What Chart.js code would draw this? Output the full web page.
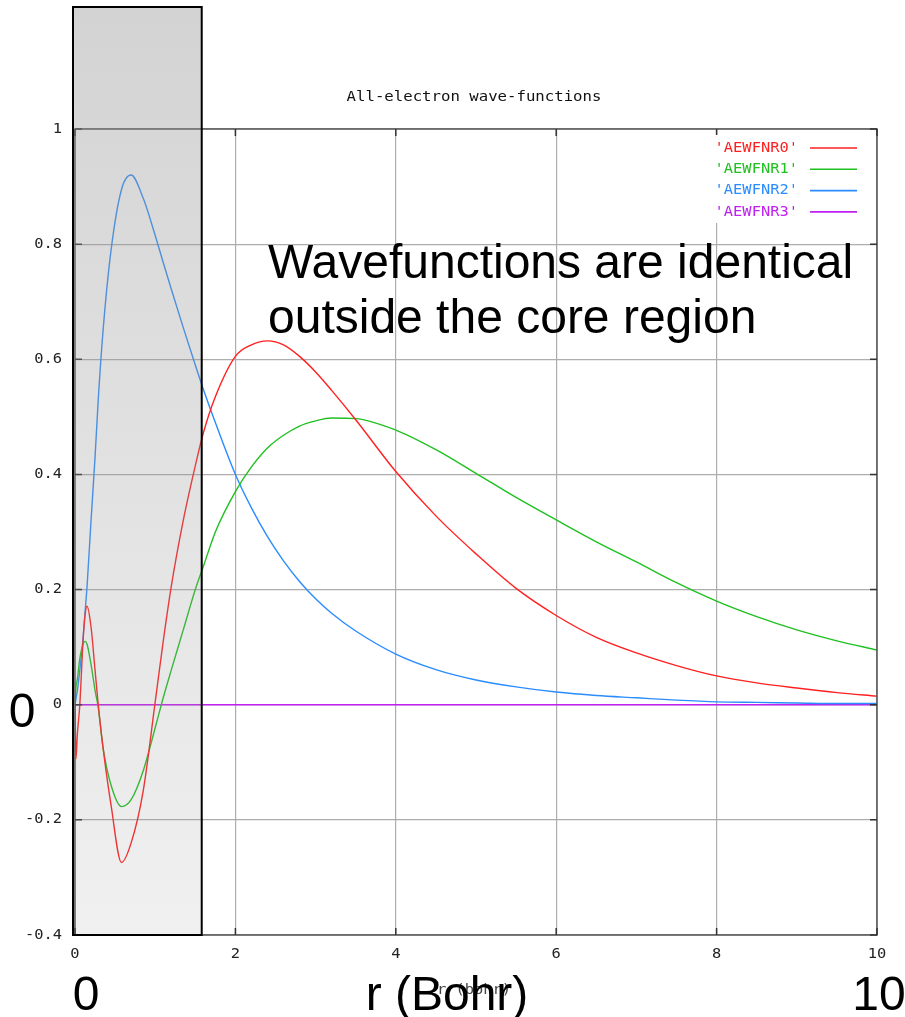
<!DOCTYPE html>
<html><head><meta charset="utf-8">
<script src="https://cdn.jsdelivr.net/npm/chart.js@4.4.0/dist/chart.umd.min.js"></script>
<style>html,body{margin:0;padding:0;background:#fff;}canvas{display:block;}</style>
</head><body>
<canvas id="c" width="905" height="1017"></canvas>
<script>
// ---- data ----
const rBohr   = [0, 0.012, 0.03, 0.06, 0.1, 0.125, 0.15, 0.2, 0.25, 0.29, 0.35, 0.45, 0.58, 0.7, 0.85, 1.0, 1.1, 1.2, 1.35, 1.5, 1.6, 1.75, 2.0, 2.2, 2.4, 2.6, 2.8, 3.0, 3.2, 3.5, 4.0, 4.5, 5.0, 5.5, 6.0, 6.5, 7.0, 7.5, 8.0, 8.5, 9.0, 9.5, 10.0];
const aewfnr0 = [0, -0.094, -0.05, 0.0, 0.11, 0.155, 0.171, 0.135, 0.06, 0.0, -0.075, -0.175, -0.274, -0.24, -0.15, 0.005, 0.11, 0.205, 0.32, 0.415, 0.472, 0.535, 0.605, 0.625, 0.632, 0.625, 0.605, 0.578, 0.546, 0.495, 0.405, 0.328, 0.262, 0.202, 0.155, 0.117, 0.09, 0.068, 0.05, 0.038, 0.029, 0.021, 0.015];
const aewfnr1 = [0, 0.03, 0.045, 0.08, 0.105, 0.11, 0.105, 0.07, 0.025, -0.005, -0.075, -0.14, -0.177, -0.165, -0.115, -0.04, 0.012, 0.06, 0.13, 0.2, 0.24, 0.3, 0.37, 0.413, 0.446, 0.468, 0.484, 0.493, 0.498, 0.497, 0.477, 0.443, 0.402, 0.36, 0.321, 0.283, 0.248, 0.212, 0.18, 0.153, 0.13, 0.111, 0.095];
const aewfnr2 = [0, 0.01, 0.025, 0.06, 0.115, 0.16, 0.205, 0.32, 0.43, 0.53, 0.65, 0.79, 0.895, 0.92, 0.88, 0.815, 0.768, 0.722, 0.655, 0.59, 0.548, 0.49, 0.4, 0.342, 0.292, 0.25, 0.214, 0.184, 0.159, 0.128, 0.088, 0.061, 0.043, 0.031, 0.022, 0.016, 0.012, 0.008, 0.005, 0.004, 0.003, 0.002, 0.002];
const aewfnr3 = [0, 0, 0, 0, 0, 0, 0, 0, 0, 0, 0, 0, 0, 0, 0, 0, 0, 0, 0, 0, 0, 0, 0, 0, 0, 0, 0, 0, 0, 0, 0, 0, 0, 0, 0, 0, 0, 0, 0, 0, 0, 0, 0];
const seriesLabels = ["'AEWFNR0'", "'AEWFNR1'", "'AEWFNR2'", "'AEWFNR3'"];
const seriesColors = ['#ff2020', '#20c020', '#2a8cff', '#c020f0'];
const xTickValues = [0, 2, 4, 6, 8, 10];
const xTickLabels = ['0', '2', '4', '6', '8', '10'];
const yTickValues = [-0.4, -0.2, 0, 0.2, 0.4, 0.6, 0.8, 1];
const yTickLabels = ['-0.4', '-0.2', '0', '0.2', '0.4', '0.6', '0.8', '1'];
const coreRadius = 1.58;
const chartTitle = 'All-electron wave-functions';
const xAxisLabel = 'r (bohr)';
const noteLines = ['Wavefunctions are identical', 'outside the core region'];

const seriesValues = [aewfnr0, aewfnr1, aewfnr2, aewfnr3];
const datasets = seriesValues.map((vals, k) => ({
  label: seriesLabels[k],
  data: rBohr.map((r, i) => ({x: r, y: vals[i]})),
  borderColor: seriesColors[k],
  borderWidth: 1.4,
  pointRadius: 0,
  cubicInterpolationMode: 'monotone',
  fill: false
}));

const MONO = '"DejaVu Sans Mono", monospace';
const SANS = '"Liberation Sans", Arial, sans-serif';

function stretchText(ctx, txt, x, y, align, sx, font, color) {
  ctx.save();
  ctx.translate(x, y);
  ctx.scale(sx, 1);
  ctx.font = font;
  ctx.fillStyle = color;
  ctx.textAlign = align;
  ctx.textBaseline = 'middle';
  ctx.fillText(txt, 0, 0);
  ctx.restore();
}

const decor = {
  id: 'decor',
  beforeDraw(chart) {
    const ctx = chart.ctx;
    ctx.save();
    ctx.fillStyle = '#fff';
    ctx.fillRect(0, 0, chart.width, chart.height);
    ctx.restore();
  },
  afterDatasetsDraw(chart) {
    const {ctx, chartArea: a, scales: {x, y}} = chart;
    ctx.save();
    // plot frame
    ctx.strokeStyle = '#555';
    ctx.lineWidth = 1.5;
    ctx.strokeRect(a.left, a.top, a.right - a.left, a.bottom - a.top);
    // inner tick marks
    ctx.strokeStyle = '#333';
    ctx.lineWidth = 1.5;
    ctx.beginPath();
    xTickValues.forEach(v => {
      const px = x.getPixelForValue(v);
      ctx.moveTo(px, a.bottom); ctx.lineTo(px, a.bottom - 7);
      ctx.moveTo(px, a.top); ctx.lineTo(px, a.top + 7);
    });
    yTickValues.forEach(v => {
      const py = y.getPixelForValue(v);
      ctx.moveTo(a.left, py); ctx.lineTo(a.left + 7, py);
      ctx.moveTo(a.right, py); ctx.lineTo(a.right - 7, py);
    });
    ctx.stroke();
    // core region overlay box
    const L = a.left - 2, R = x.getPixelForValue(coreRadius), T = 7, B = a.bottom;
    const g = ctx.createLinearGradient(0, T, 0, B);
    g.addColorStop(0, 'rgba(150,150,150,0.42)');
    g.addColorStop(1, 'rgba(150,150,150,0.14)');
    ctx.fillStyle = g;
    ctx.fillRect(L, T, R - L, B - T);
    ctx.strokeStyle = '#000';
    ctx.lineWidth = 2;
    ctx.strokeRect(L, T, R - L, B - T);
    ctx.restore();
  },
  afterDraw(chart) {
    const {ctx, chartArea: a, scales: {x, y}} = chart;
    const small = '14px ' + MONO;
    // tick labels
    yTickValues.forEach((v, i) => {
      stretchText(ctx, yTickLabels[i], a.left - 13, y.getPixelForValue(v), 'right', 1.1, small, '#222');
    });
    xTickValues.forEach((v, i) => {
      stretchText(ctx, xTickLabels[i], x.getPixelForValue(v), a.bottom + 19, 'center', 1.1, small, '#222');
    });
    // title
    stretchText(ctx, chartTitle, (a.left + a.right) / 2 - 2, 97, 'center', 1.12, small, '#111');
    // legend
    ctx.save();
    ctx.fillStyle = '#fff';
    ctx.fillRect(705, 135, 165, 88);
    ctx.restore();
    chart.data.datasets.forEach((ds, k) => {
      const yy = 148 + k * 21.3;
      stretchText(ctx, ds.label, 798, yy, 'right', 1.1, small, ds.borderColor);
      ctx.save();
      ctx.strokeStyle = ds.borderColor;
      ctx.lineWidth = 1.6;
      ctx.beginPath();
      ctx.moveTo(810, yy); ctx.lineTo(857, yy);
      ctx.stroke();
      ctx.restore();
    });
    // small gnuplot x label
    stretchText(ctx, xAxisLabel, (a.left + a.right) / 2 - 2, 990, 'center', 1.1, small, '#444');
    // big annotation text
    ctx.save();
    ctx.fillStyle = '#000';
    ctx.font = '48px ' + SANS;
    ctx.textBaseline = 'alphabetic';
    ctx.textAlign = 'left';
    ctx.fillText(noteLines[0], 268, 278);
    ctx.fillText(noteLines[1], 268, 333);
    ctx.textAlign = 'center';
    ctx.fillText('0', 22, 727);
    ctx.fillText('0', x.getPixelForValue(0) + 11, 1010);
    ctx.fillText('r (Bohr)', 447, 1010);
    ctx.fillText('10', x.getPixelForValue(10) + 2, 1010);
    ctx.restore();
  }
};

new Chart(document.getElementById('c'), {
  type: 'line',
  data: {datasets},
  options: {
    responsive: false,
    animation: false,
    devicePixelRatio: 1,
    layout: {padding: {top: 129, right: 28, bottom: 0, left: 0}},
    plugins: {legend: {display: false}, title: {display: false}, tooltip: {enabled: false}},
    scales: {
      x: {
        type: 'linear', min: 0, max: 10,
        ticks: {stepSize: 2, display: false},
        grid: {color: '#adadad', lineWidth: 1.2, drawTicks: false},
        border: {display: false},
        afterFit(s) { s.height = 82; }
      },
      y: {
        type: 'linear', min: -0.4, max: 1,
        ticks: {stepSize: 0.2, display: false},
        grid: {color: '#adadad', lineWidth: 1.2, drawTicks: false},
        border: {display: false},
        afterFit(s) { s.width = 75; }
      }
    }
  },
  plugins: [decor]
});
</script>
</body></html>
